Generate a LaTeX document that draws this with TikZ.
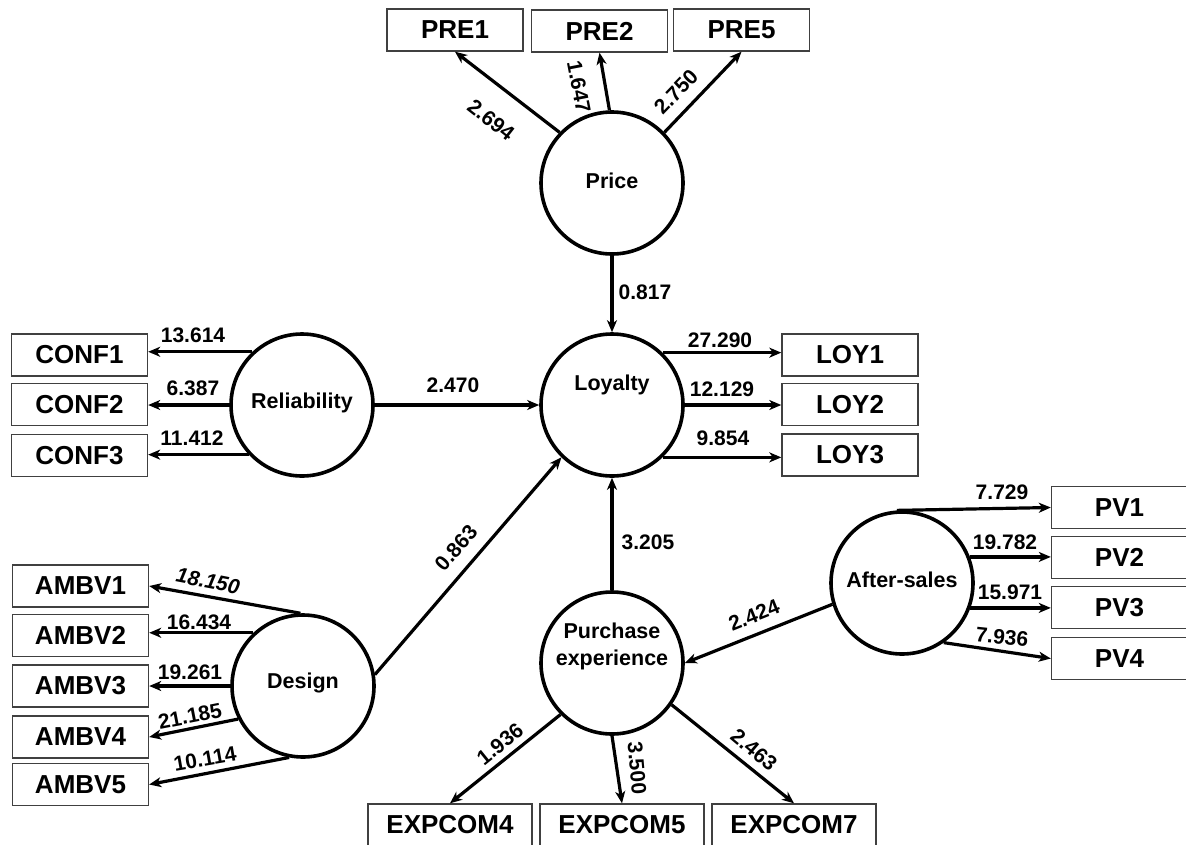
\documentclass[tikz,border=0pt]{standalone}
\usepackage{fontspec}
\setmainfont{Liberation Sans}
\usetikzlibrary{arrows.meta}
\begin{document}
\begin{tikzpicture}[x=1pt,y=-1pt,
  box/.style={draw=black!75, line width=1.4pt, fill=white, minimum width=136pt, minimum height=42pt, inner sep=0pt, font=\fontsize{26}{30}\selectfont\bfseries},
  wbox/.style={box, minimum width=164pt},
  lat/.style={circle, draw, line width=3.6pt, minimum size=142pt, inner sep=0pt},
  lattext/.style={font=\fontsize{21.5}{27}\selectfont\bfseries, align=center, inner sep=0pt},
  arr/.style={line width=3.2pt, -{Stealth[length=12pt,width=10pt,inset=3.5pt]}},
  num/.style={font=\fontsize{21}{24}\selectfont\bfseries, inner sep=0pt},
]
\useasboundingbox (0,0) rectangle (1186,844);

% latent variables
\node[lat, label={[lattext,yshift=2pt]center:Price}] (Pr) at (612,183) {};
\node[lat, label={[lattext,yshift=20pt]center:Loyalty}] (Loy) at (612,405) {};
\node[lat, label={[lattext,yshift=2pt]center:Reliability}] (Rel) at (302,405) {};
\node[lat, label={[lattext,yshift=3pt]center:Design}] (Des) at (303,686) {};
\node[lat, label={[lattext,yshift=17pt]center:Purchase\\experience}] (PE) at (612,663) {};
\node[lat, label={[lattext,yshift=3pt]center:After-sales}] (AS) at (902,583) {};

% indicators
\node[box] (PRE1) at (455,30) {PRE1};
\node[box] (PRE2) at (599.5,31) {PRE2};
\node[box] (PRE5) at (741.5,30) {PRE5};
\node[box] (CONF1) at (79.5,355) {CONF1};
\node[box] (CONF2) at (79.5,404.5) {CONF2};
\node[box] (CONF3) at (79.5,455.5) {CONF3};
\node[box] (LOY1) at (850,355) {LOY1};
\node[box] (LOY2) at (850,404.5) {LOY2};
\node[box] (LOY3) at (850,455) {LOY3};
\node[box] (AMBV1) at (80.5,586) {AMBV1};
\node[box] (AMBV2) at (80.5,635.5) {AMBV2};
\node[box] (AMBV3) at (80.5,686) {AMBV3};
\node[box] (AMBV4) at (80.5,737) {AMBV4};
\node[box] (AMBV5) at (80.5,784.5) {AMBV5};
\node[box] (PV1) at (1119.5,507.5) {PV1};
\node[box] (PV2) at (1119.5,557.5) {PV2};
\node[box] (PV3) at (1119.5,607.5) {PV3};
\node[box] (PV4) at (1119.5,658.5) {PV4};
\node[wbox] (EX4) at (450,825) {EXPCOM4};
\node[wbox] (EX5) at (622,825) {EXPCOM5};
\node[wbox] (EX7) at (794,825) {EXPCOM7};

% Price
\draw[arr] (Pr.136) -- (PRE1.south);
\draw[arr] (Pr.92) -- (PRE2.south);
\draw[arr] (Pr.44) -- (PRE5.south);
\draw[arr] (Pr.south) -- (Loy.north);
% Reliability
\draw[arr] (Rel.133) -- (CONF1.east |- Rel.133);
\draw[arr] (Rel.west) -- (CONF2.east |- Rel.west);
\draw[arr] (Rel.223) -- (CONF3.east |- Rel.223);
\draw[arr] (Rel.east) -- (Loy.west);
% Loyalty
\draw[arr] (Loy.46) -- (LOY1.west |- Loy.46);
\draw[arr] (Loy.east) -- (LOY2.west |- Loy.east);
\draw[arr] (Loy.-46) -- (LOY3.west |- Loy.-46);
% Design
\draw[arr] (Des.92) -- (AMBV1.east);
\draw[arr] (Des.133) -- (AMBV2.east |- Des.133);
\draw[arr] (Des.west) -- (AMBV3.east |- Des.west);
\draw[arr] (Des.207) -- (AMBV4.east);
\draw[arr] (Des.259) -- (AMBV5.east);
\draw[arr] (Des.9) -- (Loy.226);
% Purchase experience
\draw[arr] (PE.north) -- (Loy.south);
\draw[arr] (PE.225) -- (EX4.north);
\draw[arr] (PE.south) -- (EX5.north);
\draw[arr] (PE.-35) -- (EX7.north);
% After-sales
\draw[arr] (AS.197) -- (PE.east);
\draw[arr] (AS.94) -- (PV1.west);
\draw[arr] (AS.21.5) -- (PV2.west |- AS.21.5);
\draw[arr] (AS.-20) -- (PV3.west |- AS.-20);
\draw[arr] (AS.-55) -- (PV4.west);

% coefficients
\node[num, rotate=-38] (n1) at (491,120) {2.694};
\node[num, rotate=-79] (n2) at (579,87) {1.647};
\node[num, rotate=46] (n3) at (676,92) {2.750};
\node[num] (n4) at (645,292) {0.817};
\node[num] (n5) at (193,335) {13.614};
\node[num] (n6) at (193,388) {6.387};
\node[num] (n7) at (192,438) {11.412};
\node[num] (n8) at (453,385) {2.470};
\node[num] (n9) at (720,340) {27.290};
\node[num] (n10) at (722,389) {12.129};
\node[num] (n11) at (723,438) {9.854};
\node[num, rotate=-11, font=\fontsize{21}{24}\selectfont\bfseries\itshape] (n12) at (208,581) {18.150};
\node[num] (n13) at (199,622) {16.434};
\node[num] (n14) at (190,672) {19.261};
\node[num, rotate=11] (n15) at (190,716) {21.185};
\node[num, rotate=10] (n16) at (205,759) {10.114};
\node[num, rotate=49] (n17) at (456,548) {0.863};
\node[num] (n18) at (648,542) {3.205};
\node[num, rotate=22] (n19) at (754,615) {2.424};
\node[num] (n20) at (1002,492) {7.729};
\node[num] (n21) at (1005,542) {19.782};
\node[num] (n22) at (1010,592) {15.971};
\node[num, rotate=-6] (n23) at (1002,637) {7.936};
\node[num, rotate=39] (n24) at (500,744) {1.936};
\node[num, rotate=-85] (n25) at (637,768) {3.500};
\node[num, rotate=-40] (n26) at (754,750) {2.463};
\end{tikzpicture}
\end{document}
